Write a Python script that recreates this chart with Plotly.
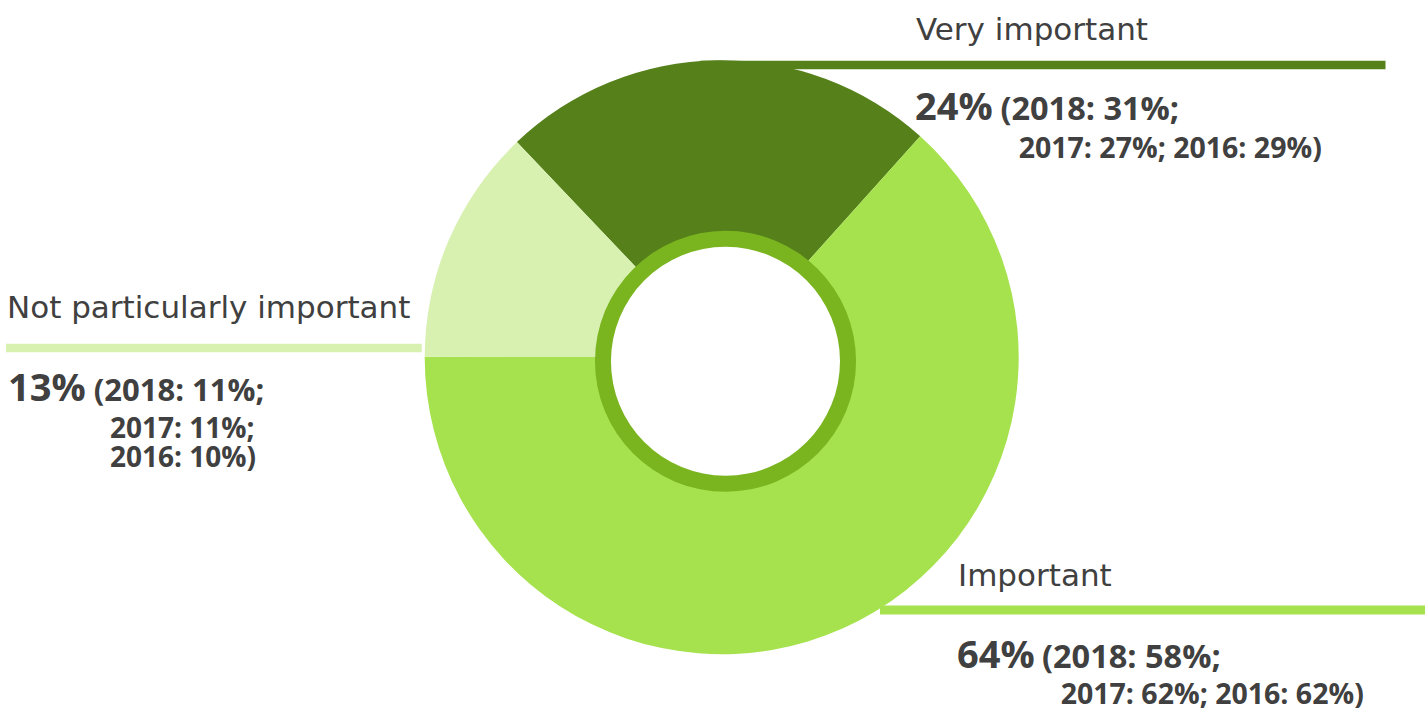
import plotly.graph_objects as go

# Survey shares for the current year and the three earlier editions
categories = ["Very important", "Important", "Not particularly important"]
share_now = [24, 64, 13]
share_2018 = [31, 58, 11]
share_2017 = [27, 62, 11]
share_2016 = [29, 62, 10]

slice_colors = ["#55801a", "#a6e24e", "#d8f1b1"]
ring_color = "#7ab520"
text_color = "#404040"

W, H = 1425, 708
cx, cy, r = 721.7, 357.2, 297.0          # donut centre / radius (px)
rcx, rcy, rr = 725.5, 361.3, 130.5       # inner ring centre / radius (px)


def dom(cxp, cyp, rad):
    return dict(x=[(cxp - rad) / W, (cxp + rad) / W],
                y=[(H - cyp - rad) / H, (H - cyp + rad) / H])


fig = go.Figure()

fig.add_trace(go.Pie(
    labels=categories,
    values=share_now,
    marker=dict(colors=slice_colors, line=dict(width=0)),
    sort=False,
    direction="clockwise",
    rotation=-43.6,
    hole=0.41,
    textinfo="none",
    hoverinfo="label+value",
    domain=dom(cx, cy, r),
    showlegend=False,
))

# thin ring around the hole
fig.add_trace(go.Pie(
    labels=["ring"],
    values=[1],
    marker=dict(colors=[ring_color], line=dict(width=0)),
    sort=False,
    hole=114.5 / 130.5,
    textinfo="none",
    hoverinfo="skip",
    domain=dom(rcx, rcy, rr),
    showlegend=False,
))

FONT_REG = "DejaVu Sans"
FONT_BOLD = "Open Sans"


def px(x):
    return x / W


def py(y):
    return 1 - y / H


def bar(x0, x1, yc, color, th=8.5):
    fig.add_shape(type="rect", xref="paper", yref="paper",
                  x0=px(x0), x1=px(x1), y0=py(yc + th / 2), y1=py(yc - th / 2),
                  fillcolor=color, line=dict(width=0), layer="below")


def label(x, y, text, family, size, bold=False):
    fig.add_annotation(xref="paper", yref="paper", x=px(x), y=py(y),
                       xanchor="left", yanchor="middle", showarrow=False,
                       text=text, align="left",
                       font=dict(family=family, size=size, color=text_color,
                                 weight="bold" if bold else "normal"))


def span(txt, size):
    return f"<span style='font-size:{size}px'>{txt}</span>"


def head(i, size):
    return (span(f"{share_now[i]}%", 38) + " "
            + span(f"(2018: {share_2018[i]}%;", size))


def tail(i):
    return f"2017: {share_2017[i]}%; 2016: {share_2016[i]}%)"


INDENT = "&nbsp;" * 14

# leader bars
bar(700, 1385.5, 65, slice_colors[0])
bar(880, 1425, 610, slice_colors[1], th=9)
bar(6, 421.7, 348, slice_colors[2])

# Very important  (line pitch comes from the base font size: 1.3 x size)
label(914, 29, categories[0], FONT_REG, 31)
label(913, 123, head(0, 32.5) + "<br>" + span(INDENT + tail(0), 28.5),
      FONT_BOLD, 29.5, bold=True)

# Important
label(956, 575, categories[1], FONT_REG, 31)
label(955, 669, head(1, 32.5) + "<br>" + span(INDENT + tail(1), 28.5),
      FONT_BOLD, 28, bold=True)

# Not particularly important
label(5, 307, categories[2], FONT_REG, 31)
label(6, 386, head(2, 31), FONT_BOLD, 31, bold=True)
label(108, 441.5,
      span(f"2017: {share_2017[2]}%;", 28) + "<br>" + span(f"2016: {share_2016[2]}%)", 28),
      FONT_BOLD, 22.3, bold=True)

fig.update_layout(
    width=W, height=H,
    margin=dict(l=0, r=0, t=0, b=0),
    paper_bgcolor="white",
    plot_bgcolor="white",
    showlegend=False,
)

fig.write_html("out.html")
